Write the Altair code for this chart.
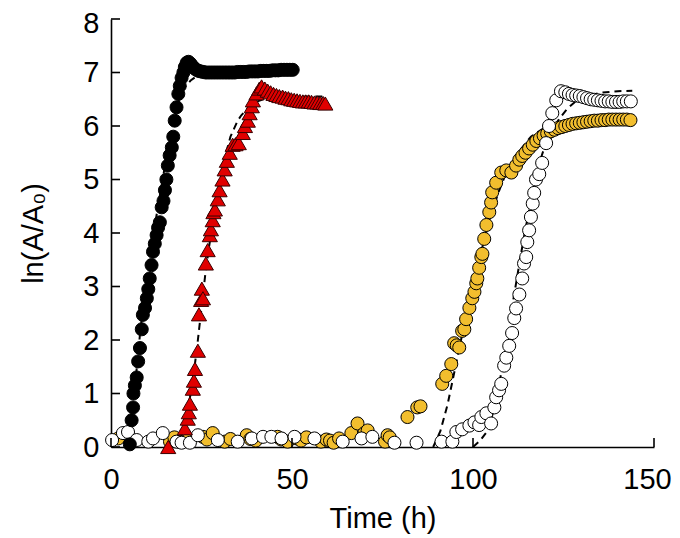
import altair as alt
import pandas as pd

# ---- measured points (Time h, ln(A/A0)) ----
black_t = [5.2, 5.7, 6.1, 6.2, 6.6, 7.1, 7.5, 8.0, 8.5, 8.8, 9.4, 9.9, 10.3, 10.7, 11.2, 11.6, 12.1, 12.6, 13.0, 13.5,
           14.0, 14.5, 14.9, 15.3, 15.7, 16.2, 16.8, 17.2, 17.6, 18.1, 18.6, 19.0, 19.5, 20.0, 20.4, 20.9, 21.4, 21.9, 22.5, 23.0,
           23.6, 24.2, 24.8, 25.5, 26.2, 27.0, 27.8, 28.6, 29.4, 30.2, 31.0, 31.8, 32.6, 33.4, 34.2, 35.0, 35.8, 36.6, 37.4, 38.2,
           39.0, 39.8, 40.6, 41.4, 42.2, 43.0, 43.8, 44.6, 45.4, 46.2, 47.0, 47.8, 48.6, 49.4, 50.2]
black_v = [0.05, 0.5, 0.74, 1.0, 1.15, 1.3, 1.6, 1.85, 2.2, 2.47, 2.6, 2.78, 2.95, 3.15, 3.4, 3.65, 3.8, 3.96, 4.1, 4.2,
           4.48, 4.6, 4.8, 5.0, 5.26, 5.45, 5.6, 5.8, 6.1, 6.35, 6.6, 6.75, 6.9, 7.0, 7.1, 7.18, 7.2, 7.17, 7.12, 7.08,
           7.05, 7.03, 7.02, 7.01, 7.0, 7.0, 7.0, 7.0, 7.0, 7.0, 7.0, 7.0, 7.0, 7.0, 7.0, 7.01, 7.01, 7.01, 7.01, 7.02,
           7.02, 7.02, 7.02, 7.03, 7.03, 7.03, 7.03, 7.04, 7.04, 7.04, 7.05, 7.05, 7.05, 7.05, 7.05]

red_t = [15.8, 20.4, 21.2, 21.5, 21.8, 22.6, 22.9, 23.2, 24.0, 24.3, 24.9, 25.1, 25.4, 26.2, 26.7, 27.3, 27.6, 28.1, 28.3, 28.7,
         29.5, 30.0, 30.8, 31.4, 32.0, 32.8, 33.6, 34.4, 35.3, 36.4, 37.0, 37.8, 38.3, 38.9, 39.2, 40.2, 41.0, 41.6, 42.5, 43.3,
         44.1, 44.9, 45.7, 46.5, 47.4, 48.2, 49.0, 49.8, 50.6, 51.4, 52.2, 53.0, 53.8, 54.6, 55.4, 56.2, 57.0, 57.8, 58.6, 59.2]
red_v = [0.0, 0.35, 0.53, 0.65, 0.81, 1.09, 1.24, 1.46, 1.8, 2.48, 2.75, 2.96, 2.78, 3.43, 3.68, 3.96, 4.07, 4.24, 4.39, 4.44,
         4.63, 4.8, 5.0, 5.19, 5.35, 5.5, 5.65, 5.66, 5.68, 5.87, 6.0, 6.1, 6.24, 6.37, 6.48, 6.61, 6.7, 6.74, 6.7, 6.66,
         6.63, 6.6, 6.58, 6.56, 6.55, 6.53, 6.52, 6.5, 6.49, 6.48, 6.47, 6.46, 6.46, 6.46, 6.45, 6.44, 6.44, 6.43, 6.43, 6.42]

gold_t = [2.0, 5.5, 16.3, 17.5, 19.0, 21.0, 25.4, 26.5, 28.1, 31.4, 33.0, 37.5, 38.5, 40.0, 46.0, 47.0, 48.8, 51.3, 52.5, 54.0,
          58.0, 59.5, 60.5, 61.5, 63.0, 66.4, 68.1, 70.0, 70.9, 75.7, 76.4, 77.0, 81.9, 84.6, 85.5, 91.5, 92.6, 94.0, 94.8, 95.5,
          96.2, 97.0, 97.6, 98.1, 99.0, 99.8, 100.4, 100.9, 101.2, 101.7, 102.3, 102.6, 103.1, 103.7, 104.5, 105.0, 105.3, 106.4, 107.8, 109.2,
          110.6, 111.9, 112.8, 113.6, 114.5, 115.5, 116.5, 117.5, 118.5, 119.5, 120.5, 121.5, 122.5, 123.5, 124.5, 125.5, 126.5, 127.5, 128.5, 129.5,
          130.5, 131.5, 132.5, 133.5, 134.5, 135.5, 136.5, 137.5, 138.5, 139.5, 140.5, 141.5, 142.5, 143.5]
gold_v = [0.16, 0.1, 0.1, 0.18, 0.1, 0.12, 0.19, 0.14, 0.26, 0.1, 0.15, 0.22, 0.15, 0.12, 0.19, 0.14, 0.1, 0.16, 0.12, 0.18,
          0.1, 0.14, 0.12, 0.08, 0.16, 0.26, 0.44, 0.26, 0.31, 0.1, 0.22, 0.18, 0.56, 0.74, 0.76, 1.18, 1.33, 1.55, 1.94, 1.9,
          1.86, 2.17, 2.2, 2.39, 2.6, 2.78, 2.9, 3.06, 3.15, 3.35, 3.55, 3.61, 3.89, 4.15, 4.39, 4.57, 4.76, 4.94, 5.13, 5.17,
          5.13, 5.26, 5.37, 5.44, 5.5, 5.58, 5.65, 5.72, 5.77, 5.82, 5.86, 5.9, 5.93, 5.96, 5.98, 6.0, 6.02, 6.04, 6.05, 6.06,
          6.07, 6.08, 6.09, 6.1, 6.1, 6.11, 6.11, 6.12, 6.12, 6.12, 6.12, 6.12, 6.12, 6.11]

white_t = [0.3, 3.3, 4.7, 7.1, 10.3, 11.6, 14.3, 18.1, 19.5, 21.8, 24.0, 29.5, 35.0, 38.9, 42.0, 44.3, 47.1, 50.7, 56.2, 64.0,
           69.2, 72.2, 78.3, 84.4, 91.3, 94.3, 95.4, 97.0, 99.0, 100.4, 101.7, 102.3, 103.7, 105.0, 105.9, 106.4, 107.2, 107.8, 108.6, 109.2,
           110.0, 110.8, 111.4, 111.9, 112.8, 113.6, 114.1, 114.7, 115.0, 115.5, 116.0, 116.5, 116.9, 117.4, 118.3, 119.1, 120.2, 121.0, 121.9, 123.0,
           124.3, 125.5, 126.5, 127.5, 128.5, 129.5, 130.5, 131.5, 132.5, 133.5, 134.5, 135.5, 136.5, 137.5, 138.5, 139.5, 140.5, 141.5, 142.5, 143.6]
white_v = [0.13, 0.26, 0.28, 0.13, 0.1, 0.16, 0.26, 0.1, 0.08, 0.08, 0.22, 0.13, 0.1, 0.16, 0.19, 0.19, 0.16, 0.19, 0.16, 0.1,
           0.16, 0.19, 0.08, 0.08, 0.1, 0.1, 0.28, 0.33, 0.4, 0.46, 0.41, 0.56, 0.63, 0.44, 0.74, 0.93, 1.06, 1.18, 1.52, 1.67,
           1.89, 2.13, 2.41, 2.59, 2.85, 3.15, 3.43, 3.55, 3.83, 4.05, 4.3, 4.55, 4.75, 5.0, 5.1, 5.31, 5.68, 6.0, 6.24, 6.48,
           6.65, 6.63, 6.6, 6.58, 6.57, 6.56, 6.54, 6.52, 6.5, 6.49, 6.48, 6.47, 6.46, 6.46, 6.45, 6.45, 6.45, 6.46, 6.46, 6.46]

# ---- dashed fitted curves ----
black_fit_t = [5.0, 5.8, 7.0, 8.0, 9.0, 10.0, 11.0, 12.0, 13.0, 14.0, 15.0, 16.0, 17.0, 18.0, 19.0, 20.0, 22.0, 24.0, 27.0, 32.0, 40.0, 50.0]
black_fit_v = [0.0, 0.5, 1.4, 2.1, 2.7, 3.2, 3.7, 4.1, 4.5, 4.9, 5.3, 5.7, 6.0, 6.3, 6.55, 6.7, 6.85, 6.95, 7.0, 7.03, 7.05, 7.05]
red_fit_t = [18.0, 20.0, 21.0, 22.0, 23.0, 24.0, 25.0, 26.0, 27.0, 28.0, 29.0, 30.0, 31.0, 32.0, 33.0, 34.0, 35.0, 36.0, 38.0, 40.0, 43.0, 48.0, 59.0]
red_fit_v = [0.0, 0.3, 0.6, 1.0, 1.45, 2.0, 2.6, 3.2, 3.7, 4.15, 4.6, 4.95, 5.3, 5.55, 5.8, 5.95, 6.1, 6.2, 6.35, 6.45, 6.52, 6.55, 6.55]
gold_fit_t = [89.0, 91.0, 93.0, 95.0, 97.0, 99.0, 101.0, 103.0, 105.0, 107.0, 109.0, 111.0, 113.0, 116.0, 120.0, 125.0, 130.0, 137.0, 144.0]
gold_fit_v = [0.0, 0.3, 0.8, 1.45, 2.1, 2.75, 3.3, 3.85, 4.35, 4.75, 5.1, 5.35, 5.55, 5.8, 5.98, 6.1, 6.17, 6.2, 6.2]
white_fit_t = [100.0, 102.0, 104.0, 105.0, 106.0, 107.0, 108.0, 109.0, 110.0, 111.0, 112.0, 113.0, 114.0, 115.0, 116.0, 117.0, 118.0,
               119.0, 120.0, 122.0, 124.0, 126.0, 128.0, 131.0, 135.0, 140.0, 144.0]
white_fit_v = [0.0, 0.12, 0.3, 0.5, 0.8, 1.1, 1.45, 1.85, 2.25, 2.7, 3.1, 3.5, 3.9, 4.25, 4.6, 4.9, 5.2,
               5.45, 5.65, 5.95, 6.15, 6.32, 6.44, 6.55, 6.62, 6.65, 6.66]

x_ticks = [0, 50, 100, 150]
y_ticks = [0, 1, 2, 3, 4, 5, 6, 7, 8]

FONT = "Liberation Sans"
W, H = 543, 428


def frame(t, v):
    return pd.DataFrame({"t": t, "v": v})


X = alt.X("t:Q", scale=alt.Scale(domain=[0, 150], nice=False, zero=False),
          axis=alt.Axis(values=x_ticks, format="d", ticks=False, grid=False, domainColor="black", domainWidth=1.6,
                        labelFlush=False, labelFontSize=29, labelPadding=18, labelColor="black", labelFont=FONT,
                        labelOffset={"condition": {"test": "datum.value === 150", "value": -7}, "value": 0},
                        title="Time (h)", titleFontSize=29, titleFont=FONT, titleColor="black",
                        titleFontWeight="normal", titlePadding=10))
Y = alt.Y("v:Q", scale=alt.Scale(domain=[0, 8], nice=False),
          axis=alt.Axis(values=y_ticks, format="d", ticks=False, grid=False, domainColor="black", domainWidth=1.6,
                        labelFlush=False, labelFontSize=29, labelPadding=12, labelColor="black", labelFont=FONT,
                        labelOffset={"condition": {"test": "datum.value === 8", "value": 4.5}, "value": 0},
                        title="ln(A/A₀)", titleFontSize=29, titleFont=FONT, titleColor="black",
                        titleFontWeight="normal", titlePadding=34))


def fit(t, v):
    return alt.Chart(frame(t, v)).mark_line(color="black", strokeWidth=2, strokeDash=[7, 5], clip=False).encode(
        x=X, y=Y, order="t:Q")


def circles(t, v, fill):
    return alt.Chart(frame(t, v)).mark_point(shape="circle", filled=True, fill=fill, stroke="black", strokeWidth=1,
                                              size=170, opacity=1, fillOpacity=1, clip=False).encode(x=X, y=Y)


red = alt.Chart(frame(red_t, red_v)).mark_point(shape="triangle-up", filled=True, fill="#E00000", stroke="#3a0000",
                                                strokeWidth=1, size=230, opacity=1, fillOpacity=1, clip=False).encode(x=X, y=Y)

ytick_rules = alt.Chart(pd.DataFrame({"v": y_ticks})).mark_rule(color="black", strokeWidth=1.6).encode(
    y=Y, x=alt.value(0), x2=alt.value(9))
xtick_rules = alt.Chart(pd.DataFrame({"t": x_ticks})).mark_rule(color="black", strokeWidth=1.6).encode(
    x=X, y=alt.value(H), y2=alt.value(H - 9))

chart = alt.layer(
    fit(black_fit_t, black_fit_v),
    fit(red_fit_t, red_fit_v),
    fit(gold_fit_t, gold_fit_v),
    fit(white_fit_t, white_fit_v),
    circles(gold_t, gold_v, "#F2BE2E"),
    circles(white_t, white_v, "white"),
    red,
    circles(black_t, black_v, "black"),
    ytick_rules,
    xtick_rules,
).properties(
    width=W, height=H,
    autosize=alt.AutoSizeParams(type="none"),
    padding={"left": 103, "top": 11, "right": 18, "bottom": 91},
).configure_view(stroke=None)

chart.save("out.html", embed_options={"renderer": "svg", "actions": False})
